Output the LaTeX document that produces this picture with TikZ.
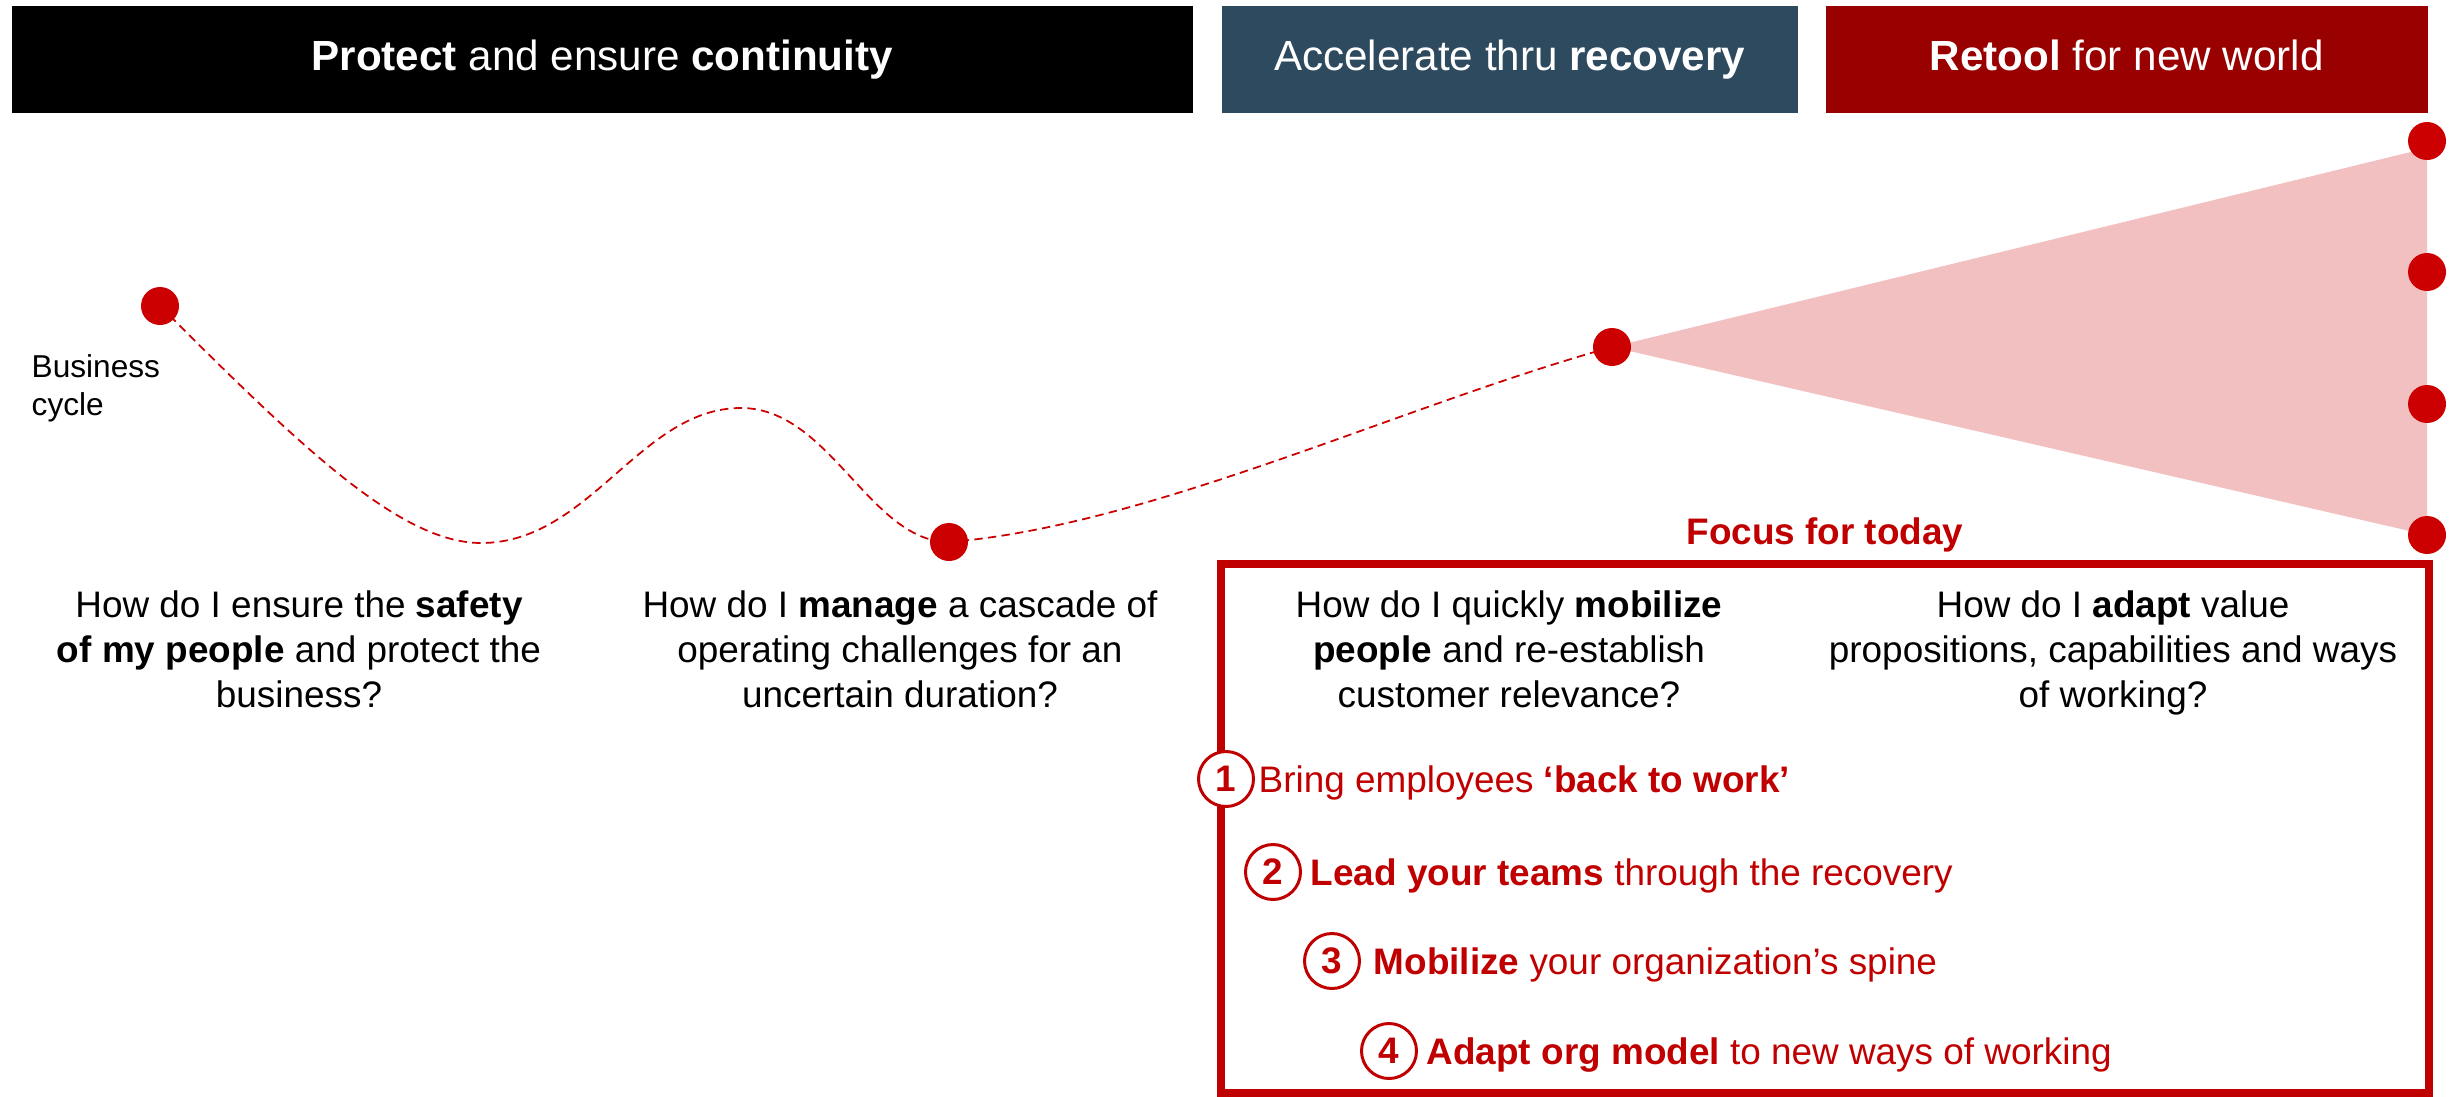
\documentclass[tikz,border=0pt]{standalone}
\usepackage{fontspec}
\setmainfont{Liberation Sans}
\usetikzlibrary{positioning,backgrounds}

\definecolor{headslate}{HTML}{2E4A5E}
\definecolor{headred}{HTML}{990000}
\definecolor{dotred}{HTML}{CC0000}
\definecolor{focusred}{HTML}{C00000}
\definecolor{fanpink}{HTML}{F2C0C1}

\begin{document}
\begin{tikzpicture}[node distance=1mm, inner sep=0pt]
    \tikzstyle{headbox}=[anchor=north west, minimum height=1.07cm, text=white, text height=9pt, text depth=2.5pt, font=\fontsize{12}{14.4}\selectfont]
    \tikzstyle{cycledot}=[circle, fill=dotred, minimum size=0.38cm]
    \tikzstyle{question}=[align=center, anchor=base, font=\fontsize{10.5}{12.8}\selectfont]
    \tikzstyle{numcircle}=[circle, draw=focusred, line width=0.85pt, fill=white, text=focusred, minimum size=0.55cm, font=\fontsize{10.5}{12.8}\selectfont\bfseries]
    \tikzstyle{focusitem}=[text=focusred, text height=7.5pt, text depth=0pt, font=\fontsize{10.5}{12.8}\selectfont]
    \useasboundingbox (0,0) rectangle (24.51,10.96);

    % three phases on top
    \node (protect) [headbox, fill=black, minimum width=11.81cm] at (0.11,10.91) {\textbf{Protect} and ensure \textbf{continuity}};
    \node (accel) [headbox, fill=headslate, minimum width=5.76cm] at (12.21,10.91) {Accelerate thru \textbf{recovery}};
    \node (retool) [headbox, fill=headred, minimum width=6.02cm] at (18.25,10.91) {\textbf{Retool} for new world};

    % business cycle points
    \node (d1) [cycledot] at (1.60,7.90) {};
    \node (d2) [cycledot] at (9.49,5.54) {};
    \node (d3) [cycledot] at (16.12,7.49) {};
    \node (d4) [cycledot] at (24.27,9.55) {};
    \node (d5) [cycledot] at (24.27,8.24) {};
    \node (d6) [cycledot] at (24.27,6.92) {};
    \node (d7) [cycledot] at (24.27,5.61) {};
    \coordinate (low) at (4.81,5.53);
    \coordinate (high) at (7.41,6.88);

    \begin{pgfonlayer}{background}
        \fill [fanpink] (d3.center) -- (24.27,9.48) -- (d7.center) -- cycle;
        \draw [dotred, line width=0.5pt, dash pattern=on 2.4pt off 1.5pt]
            (d1.center) .. controls (3.0,6.5) and (4.0,5.53) .. (low)
            .. controls (5.9,5.53) and (6.4,6.88) .. (high)
            .. controls (8.3,6.88) and (8.7,5.54) .. (d2.center)
            .. controls (11.5,5.7) and (14.0,6.9) .. (d3.center);
    \end{pgfonlayer}

    % base of a two-line node is its last line
    \node (bc) [anchor=base west, align=left, font=\fontsize{9}{10.8}\selectfont] at (0.31,6.81) {Business\\cycle};

    % questions per phase
    \node (q1) [question] at (2.99,3.89) {How do I ensure the \textbf{safety}\\\textbf{of my people} and protect the\\business?};
    \node (q2) [question] at (9.00,3.89) {How do I \textbf{manage} a cascade of\\operating challenges for an\\uncertain duration?};
    \node (q3) [question] at (15.09,3.89) {How do I quickly \textbf{mobilize}\\\textbf{people} and re-establish\\customer relevance?};
    \node (q4) [question] at (21.13,3.89) {How do I \textbf{adapt} value\\propositions, capabilities and ways\\of working?};

    % focus box
    \node (focus) [draw=focusred, line width=2.3pt, minimum width=12.08cm, minimum height=5.29cm] at (18.25,2.675) {};
    \node (today) [anchor=base, text=focusred, font=\fontsize{10.5}{12.8}\selectfont\bfseries] at (18.25,5.52) {Focus for today};

    \node (n1) [numcircle] at (12.26,3.17) {1};
    \node (i1) [focusitem, right=0.03cm of n1] {Bring employees \textbf{‘back to work’}};
    \node (n2) [numcircle] at (12.73,2.24) {2};
    \node (i2) [focusitem, right=0.08cm of n2] {\textbf{Lead your teams} through the recovery};
    \node (n3) [numcircle] at (13.32,1.35) {3};
    \node (i3) [focusitem, right=0.12cm of n3] {\textbf{Mobilize} your organization’s spine};
    \node (n4) [numcircle] at (13.89,0.45) {4};
    \node (i4) [focusitem, right=0.08cm of n4] {\textbf{Adapt org model} to new ways of working};
\end{tikzpicture}
\end{document}
